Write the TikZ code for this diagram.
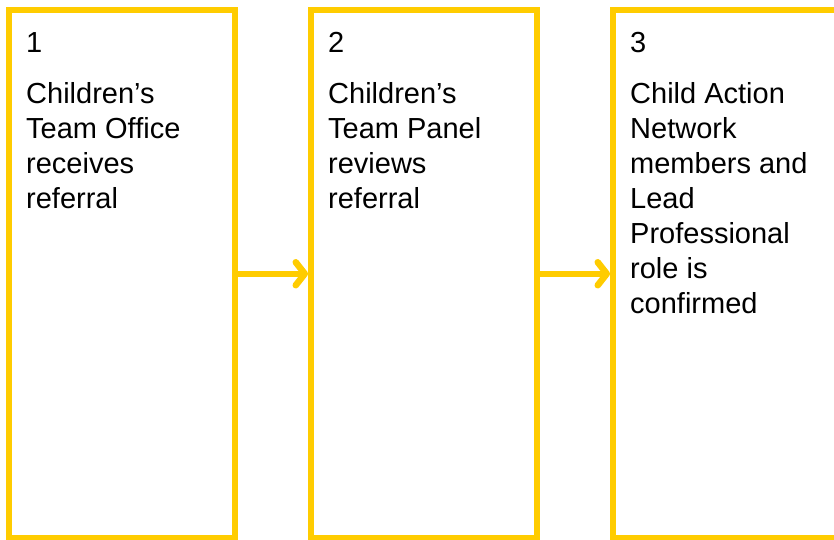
\documentclass[tikz,border=0pt]{standalone}
\usepackage{fontspec}
\setmainfont{Liberation Sans}
\usepackage{xcolor}
\usetikzlibrary{arrows.meta,positioning}
\definecolor{stepyellow}{HTML}{FFCC00}
\tikzset{
	stepbox/.style={draw=stepyellow,line width=6pt,minimum width=226pt,minimum height=527.5pt,inner sep=0pt},
	steptext/.style={anchor=north west,inner sep=0pt,align=left,font=\fontsize{29}{35}\selectfont},
	steparrow/.style={-{Straight Barb[round,length=9pt,width=23pt]},draw=stepyellow,line width=6.5pt}
}
\begin{document}
\begin{tikzpicture}[x=1pt,y=1pt]
		\useasboundingbox (0,0) rectangle (834,-539);
		\node[stepbox] (box1) at (122,-273.75) {};
		\node[stepbox,right=70pt of box1] (box2) {};
		\node[stepbox,right=70pt of box2] (box3) {};
		\draw[steparrow] (box1) -- (box2);
		\draw[steparrow] (box2) -- (box3);
		\node[steptext] (text1) at (26,-27.5) {\strut 1\\[16pt] Children’s\\ Team Office\\ receives\\ referral};
			\node[steptext] (text2) at (328,-27.5) {\strut 2\\[16pt] Children’s\\ Team Panel\\ reviews\\ referral};
				\node[steptext] (text3) at (630,-27.5) {\strut 3\\[16pt] Child Action\\ Network\\ members and\\ Lead\\ Professional\\ role is\\ confirmed};
	\end{tikzpicture}
\end{document}
